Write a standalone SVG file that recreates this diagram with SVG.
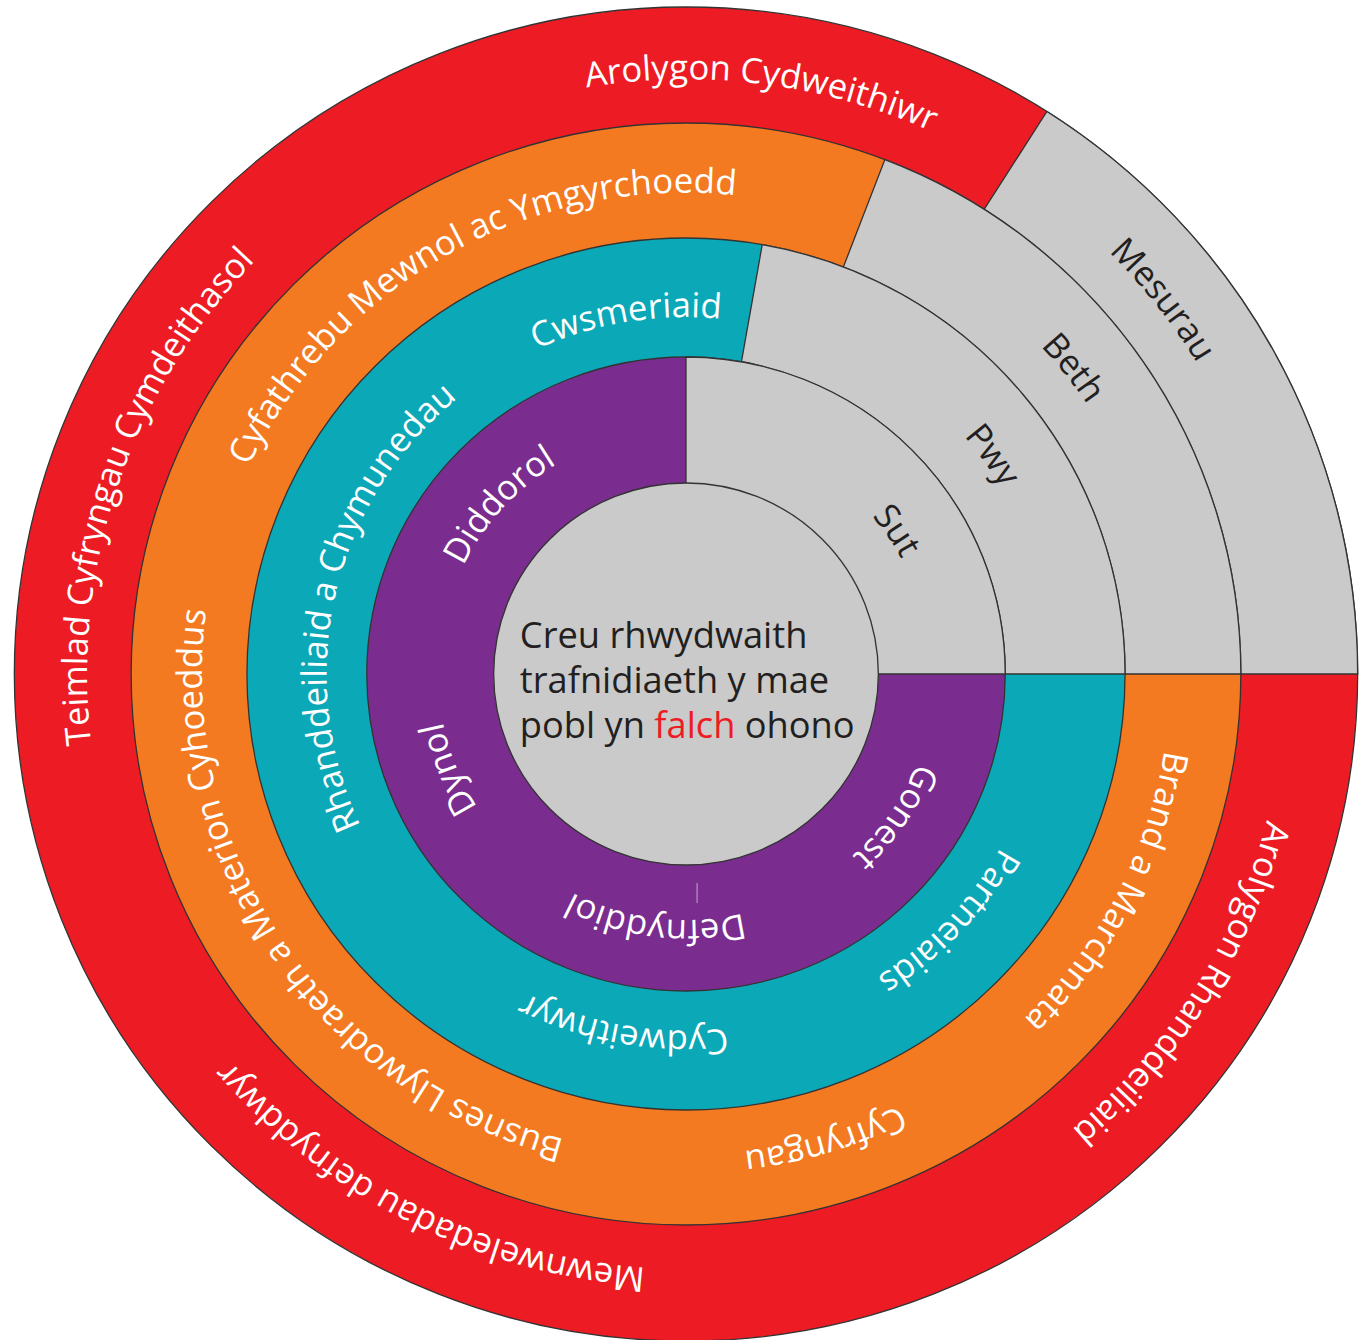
<svg xmlns="http://www.w3.org/2000/svg" width="1368" height="1340" viewBox="0 0 1368 1340">
<style>
.ln{stroke:#333;stroke-width:1.3}
.red{fill:#ED1C24}.org{fill:#F37A21}.teal{fill:#0BA8B7}.pur{fill:#7A2D8F}.gry{fill:#CACACA}
.lbl{font-family:"Open Sans","Noto Sans",sans-serif;font-size:34.5px;fill:#fff}
.dk{fill:#231F20}
.ctr{font-family:"Open Sans","Noto Sans",sans-serif;font-size:36px;fill:#231F20}
</style>
<defs>
<path id="p1" d="M104.7,547.2 A595,595 0 0 1 1280.5,697.9"/>
<path id="p2" d="M447.8,1219.2 A595,595 0 0 1 825.9,95.7"/>
<path id="p3" d="M1192.2,986.7 A595,595 0 0 1 133.2,454.0"/>
<path id="p4" d="M1044.9,199.4 A595,595 0 0 1 415.0,1203.7"/>
<path id="p5" d="M359.3,176.7 A595,595 0 0 1 1094.1,1107.0"/>
<path id="p6" d="M247.6,871.9 A481,481 0 0 1 1083.4,402.9"/>
<path id="p7" d="M918.5,1095.1 A481,481 0 0 1 384.0,299.7"/>
<path id="p8" d="M1157.3,578.1 A481,481 0 0 1 238.5,850.3"/>
<path id="p9" d="M944.4,268.3 A481,481 0 0 1 501.9,1118.4"/>
<path id="p10" d="M420.5,272.9 A481,481 0 0 1 1017.1,1022.9"/>
<path id="p11" d="M330.1,702.0 A357,357 0 0 1 1031.6,584.6"/>
<path id="p12" d="M577.5,1014.1 A357,357 0 0 1 733.8,320.2"/>
<path id="p13" d="M1030.8,766.4 A357,357 0 0 1 330.4,642.9"/>
<path id="p14" d="M953.4,437.4 A357,357 0 0 1 463.8,953.4"/>
<path id="p15" d="M499.6,360.3 A365,365 0 0 1 924.0,950.7"/>
<path id="p16" d="M505.2,840.8 A246,246 0 0 1 835.1,478.3"/>
<path id="p17" d="M757.9,909.3 A246,246 0 0 1 574.3,454.8"/>
<path id="p18" d="M926.6,725.1 A246,246 0 0 1 440.1,665.4"/>
<path id="p19" d="M842.5,484.2 A246,246 0 0 1 564.9,888.1"/>
<path id="p20" d="M566.7,462.3 A243,243 0 0 1 840.2,861.8"/>
</defs>

<g transform="matrix(1.007 0 0 1 -4.8 0)">
<g id="ring-red">
<circle class="red ln" cx="686" cy="674" r="667"/>
<path class="gry ln" d="M686,674 L1353,674 A667,667 0 0 0 1044.4,111.5 Z"/>
</g>
<g id="ring-orange">
<circle class="org ln" cx="686" cy="674" r="551"/>
<path class="gry ln" d="M686,674 L1237,674 A551,551 0 0 0 883.5,159.6 Z"/>
</g>
<g id="ring-teal">
<circle class="teal ln" cx="686" cy="674" r="436"/>
<path class="gry ln" d="M686,674 L1122,674 A436,436 0 0 0 761.7,244.6 Z"/>
</g>
<g id="ring-purple">
<circle class="pur ln" cx="686" cy="674" r="317"/>
<path class="gry ln" d="M686,674 L1003,674 A317,317 0 0 0 686,357 Z"/>
<line x1="697" y1="883" x2="697" y2="903" stroke="#C7A6D2" stroke-width="1"/>
</g>
<g id="center">
<circle class="gry ln" cx="686" cy="674" r="191"/>
<text class="ctr" x="521" y="648">Creu rhwydwaith</text>
<text class="ctr" x="521" y="693">trafnidiaeth y mae</text>
<text class="ctr" x="521" y="738">pobl yn <tspan fill="#ED1C24">falch</tspan> ohono</text>
</g>

<g id="labels-red">
<text class="lbl"><textPath href="#p1" startOffset="50%" text-anchor="middle">Arolygon Cydweithiwr</textPath></text>
<text class="lbl"><textPath href="#p2" startOffset="50%" text-anchor="middle">Teimlad Cyfryngau Cymdeithasol</textPath></text>
<text class="lbl"><textPath href="#p3" startOffset="50%" text-anchor="middle">Mewnweledadau defnyddwyr</textPath></text>
<text class="lbl"><textPath href="#p4" startOffset="50%" text-anchor="middle">Arolygon Rhanddeiliaid</textPath></text>
<text class="lbl dk"><textPath href="#p5" startOffset="50%" text-anchor="middle">Mesurau</textPath></text>
</g>
<g id="labels-orange">
<text class="lbl"><textPath href="#p6" startOffset="50%" text-anchor="middle">Cyfathrebu Mewnol ac Ymgyrchoedd</textPath></text>
<text class="lbl"><textPath href="#p7" startOffset="50%" text-anchor="middle">Busnes Llywodraeth a Materion Cyhoeddus</textPath></text>
<text class="lbl"><textPath href="#p8" startOffset="50%" text-anchor="middle">Cyfryngau</textPath></text>
<text class="lbl"><textPath href="#p9" startOffset="50%" text-anchor="middle">Brand a Marchnata</textPath></text>
<text class="lbl dk"><textPath href="#p10" startOffset="50%" text-anchor="middle">Beth</textPath></text>
</g>
<g id="labels-teal">
<text class="lbl"><textPath href="#p11" startOffset="50%" text-anchor="middle">Cwsmeriaid</textPath></text>
<text class="lbl"><textPath href="#p12" startOffset="50%" text-anchor="middle">Rhanddeiliaid a Chymunedau</textPath></text>
<text class="lbl"><textPath href="#p13" startOffset="50%" text-anchor="middle">Cydweithwyr</textPath></text>
<text class="lbl"><textPath href="#p14" startOffset="50%" text-anchor="middle">Partneiaids</textPath></text>
<text class="lbl dk"><textPath href="#p15" startOffset="50%" text-anchor="middle">Pwy</textPath></text>
</g>
<g id="labels-purple">
<text class="lbl"><textPath href="#p16" startOffset="50%" text-anchor="middle">Diddorol</textPath></text>
<text class="lbl"><textPath href="#p17" startOffset="50%" text-anchor="middle">Dynol</textPath></text>
<text class="lbl"><textPath href="#p18" startOffset="50%" text-anchor="middle">Defnyddiol</textPath></text>
<text class="lbl"><textPath href="#p19" startOffset="50%" text-anchor="middle">Gonest</textPath></text>
<text class="lbl dk"><textPath href="#p20" startOffset="50%" text-anchor="middle">Sut</textPath></text>
</g>
</g>
</svg>
